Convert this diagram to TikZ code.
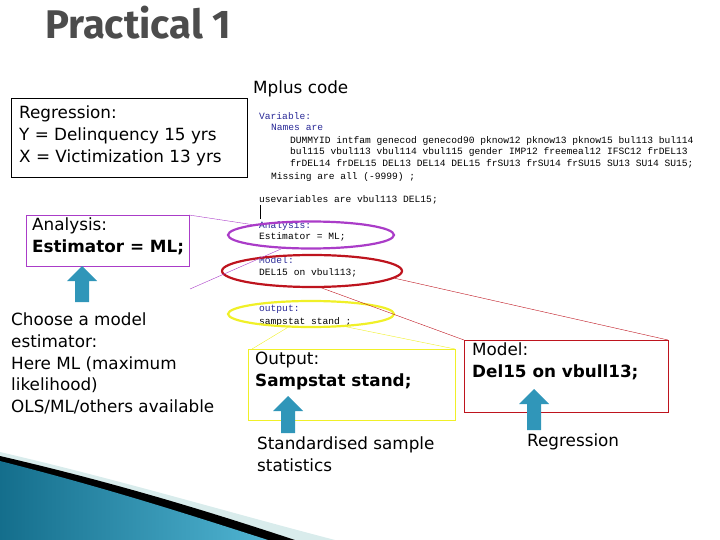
\documentclass[tikz,border=0pt]{standalone}
\usepackage{fontspec}
\setmainfont{DejaVu Sans}
\newfontfamily\titlefont{Fira Sans}
\newfontfamily\codefont{Liberation Mono}
\usetikzlibrary{shapes.geometric,positioning}
\definecolor{codeblue}{RGB}{40,40,150}
\definecolor{arrowteal}{RGB}{48,150,185}
\definecolor{purpleline}{RGB}{170,60,200}
\definecolor{redline}{RGB}{190,20,30}
\definecolor{yellowline}{RGB}{240,240,40}
\definecolor{teal1}{RGB}{20,110,140}
\definecolor{teal2}{RGB}{80,180,210}

\newcommand{\bluearrow}[3]{% x, top y, bottom y
  \fill[arrowteal] (#1-7,#3) -- (#1+7,#3) -- (#1+7,#2+15) -- (#1+15,#2+15)
    -- (#1,#2) -- (#1-15,#2+15) -- (#1-7,#2+15) -- cycle;}

\begin{document}
\begin{tikzpicture}[x=1pt,y=-1pt,
  txt/.style={anchor=north west,inner sep=0pt,align=left,font=\fontsize{16.8}{21.6}\selectfont},
  codeline/.style={anchor=north west,inner sep=0pt,font=\codefont\fontsize{9.6}{11.6}\selectfont},
  ring/.style={ellipse,draw,line width=2.2pt,inner sep=0pt}]
	\useasboundingbox (0,0) rectangle (720,540);
	
	% bottom corner wave
	\fill[teal!15!white] (0,452) .. controls (120,480) and (220,510) .. (335,540) -- (0,540) -- cycle;
	\fill[black] (0,456) .. controls (120,484) and (210,512) .. (295,540) -- (0,540) -- cycle;
	\shade[left color=teal1,right color=teal2] (0,461) .. controls (110,489) and (190,515) .. (268,540) -- (0,540) -- cycle;
	
	\node[anchor=north west,inner sep=0pt,text=black!70,font=\titlefont\bfseries\fontsize{40}{44}\selectfont] (title) at (45,6) {Practical 1};
	\node[txt] (mplus) at (253,81) {Mplus code};
	
	% code
	\node[codeline,text=codeblue] (c1) at (259,112) {Variable:};
	\node[codeline,text=codeblue] (c2) at (271,124) {Names are};
	\node[codeline,align=left] (c3) at (290,136) {DUMMYID intfam genecod genecod90 pknow12 pknow13 pknow15 bul113 bul114\\bul115 vbul113 vbul114 vbul115 gender IMP12 freemeal12 IFSC12 frDEL13\\frDEL14 frDEL15 DEL13 DEL14 DEL15 frSU13 frSU14 frSU15 SU13 SU14 SU15;};
	\node[codeline] (c4) at (271,172) {Missing are all (-9999) ;};
	\node[codeline] (c5) at (259,195) {usevariables are vbul113 DEL15;};
	\draw (c5.south west) ++(1,1) -- ++(0,14);
	\node[codeline,text=codeblue] (c6) at (259,221) {Analysis:};
	\node[codeline] (c7) at (259,232) {Estimator = ML;};
	\node[codeline,text=codeblue] (c8) at (259,256) {Model:};
	\node[codeline] (c9) at (259,268) {DEL15 on vbul113;};
	\node[codeline,text=codeblue] (c10) at (259,305) {output:};
	\node[codeline] (c11) at (259,317) {sampstat stand ;};
	
	% rings
	\node[ring,draw=purpleline,minimum width=166,minimum height=27] (ana) at (311,235) {};
	\node[ring,draw=redline,minimum width=180,minimum height=32] (mod) at (312,271) {};
	\node[ring,draw=yellowline,minimum width=166,minimum height=26] (out) at (311,314) {};
	
	% boxes
	\draw (11,98) rectangle (247,177);
	\node[txt] (reg) at (19,106) {Regression:\\Y = Delinquency 15 yrs\\X = Victimization 13 yrs};
	
	\draw[purpleline] (26,215) rectangle (189,266);
	\coordinate (anaNE) at (189,215);
	\coordinate (anaFoot) at (190,289);
	\node[txt] (analabel) at (32,218) {Analysis:\\\textbf{Estimator = ML;}};
	\draw[purpleline] (anaNE) -- (ana.170);
	\draw[purpleline] (anaFoot) -- (ana.205);
	
	\draw[yellowline] (248,349) rectangle (455,420);
	\coordinate (outNW) at (252,349);
	\coordinate (outNE) at (455,349);
	\node[txt] (outlabel) at (255,352) {Output:\\\textbf{Sampstat stand;}};
	\draw[yellowline] (out.210) -- (outNW);
	\draw[yellowline] (out.-20) -- (outNE);
	
	\draw[redline] (464,340) rectangle (668,412);
	\coordinate (modNW) at (464,340);
	\coordinate (modNE) at (668,340);
	\node[txt] (modlabel) at (472,343) {Model:\\\textbf{Del15 on vbull13;}};
	\draw[redline] (mod.-5) -- (modNE);
	\draw[redline] (mod.-60) -- (modNW);
	
	% arrows and notes
	\bluearrow{82}{266}{302}
	\bluearrow{288}{396}{433}
	\bluearrow{534}{389}{430}
	\node[txt] (choose) at (11,313) {Choose a model\\estimator:\\Here ML (maximum\\likelihood)\\OLS/ML/others available};
	\node[txt] (std) at (257,437) {Standardised sample\\statistics};
	\node[txt] (regr) at (527,434) {Regression};
	
\end{tikzpicture}
\end{document}
